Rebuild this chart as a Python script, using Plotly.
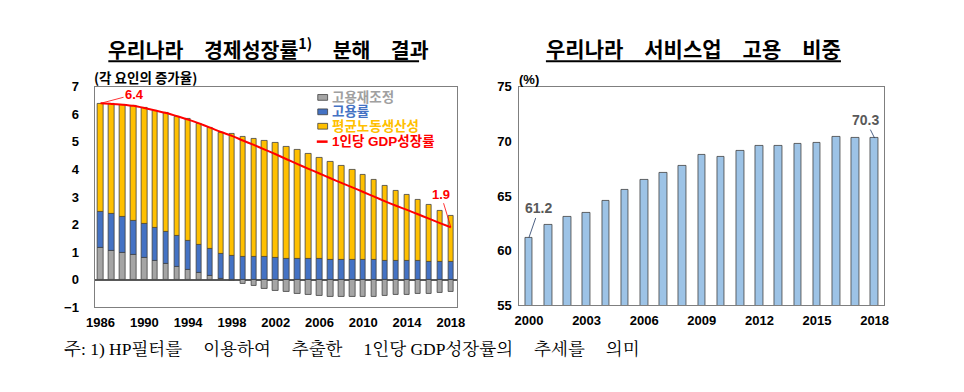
import plotly.graph_objects as go

# ---------------- data ----------------
years_l = list(range(1986, 2019))
emp_adj = [1.15, 1.06, 0.98, 0.88, 0.79, 0.67, 0.56, 0.47, 0.34, 0.24, 0.13, 0.02,
           -0.05, -0.16, -0.24, -0.33, -0.40, -0.45, -0.51, -0.54, -0.58, -0.61, -0.62,
           -0.62, -0.61, -0.61, -0.58, -0.57, -0.54, -0.53, -0.51, -0.47, -0.45]
emp_rate = [1.31, 1.31, 1.29, 1.27, 1.23, 1.20, 1.17, 1.10, 1.07, 1.01, 0.98, 0.91,
            0.87, 0.83, 0.83, 0.82, 0.80, 0.76, 0.76, 0.76, 0.74, 0.73, 0.73,
            0.73, 0.73, 0.73, 0.69, 0.69, 0.69, 0.69, 0.66, 0.66, 0.63]
productivity = [3.93, 4.00, 4.08, 4.16, 4.21, 4.27, 4.32, 4.35, 4.41, 4.42, 4.41, 4.41,
                4.42, 4.36, 4.29, 4.21, 4.15, 4.06, 3.94, 3.80, 3.69, 3.56, 3.39,
                3.25, 3.06, 2.88, 2.73, 2.55, 2.38, 2.21, 2.05, 1.85, 1.70]
gdp_pc = [6.40, 6.38, 6.35, 6.31, 6.23, 6.14, 6.05, 5.93, 5.81, 5.67, 5.52, 5.36,
          5.22, 5.05, 4.89, 4.72, 4.55, 4.37, 4.19, 4.02, 3.85, 3.68, 3.51,
          3.35, 3.18, 3.01, 2.84, 2.68, 2.53, 2.37, 2.21, 2.05, 1.90]
ticks_l = list(range(1986, 2019, 4))

years_r = list(range(2000, 2019))
service_share = [61.2, 62.4, 63.1, 63.5, 64.6, 65.6, 66.5, 67.1, 67.8, 68.8, 68.6,
                 69.1, 69.6, 69.6, 69.8, 69.9, 70.4, 70.3, 70.3]
ticks_r = list(range(2000, 2019, 3))

label_first_l, label_last_l = "6.4", "1.9"
label_first_r, label_last_r = "61.2", "70.3"

# ---------------- style ----------------
W, H = 964, 392
GREY, BLUE, YELLOW, RED = "#A5A5A5", "#4472C4", "#FFC000", "#FF0000"
LBLUE = "#9DC3E6"
EDGE = "#404040"
LAT = "Liberation Sans, Arial, Noto Sans CJK KR"
KR = "Noto Sans CJK KR, Liberation Sans"


def px(x):
    return x / W


def py(y):
    return 1 - y / H


fig = go.Figure()
bar_line = dict(color=EDGE, width=0.8)
fig.add_trace(go.Bar(x=years_l, y=emp_adj, marker=dict(color=GREY, line=bar_line),
                     width=0.5, name="고용재조정", xaxis="x", yaxis="y"))
fig.add_trace(go.Bar(x=years_l, y=emp_rate, marker=dict(color=BLUE, line=bar_line),
                     width=0.5, name="고용률", xaxis="x", yaxis="y"))
fig.add_trace(go.Bar(x=years_l, y=productivity, marker=dict(color=YELLOW, line=bar_line),
                     width=0.5, name="평균노동생산성", xaxis="x", yaxis="y"))
fig.add_trace(go.Scatter(x=years_l, y=gdp_pc, mode="lines",
                         line=dict(color=RED, width=2, shape="spline", smoothing=0.6),
                         name="1인당 GDP성장률", xaxis="x", yaxis="y"))
fig.add_trace(go.Bar(x=years_r, y=service_share, marker=dict(color=LBLUE, line=bar_line),
                     width=0.4, name="서비스업 고용 비중", xaxis="x2", yaxis="y2"))

tickfont = dict(family=LAT, size=13, color="#000000", weight="bold")
axis_common = dict(showline=True, linecolor="#7F7F7F", linewidth=1, mirror=True,
                   showgrid=False, ticks="", tickfont=tickfont, fixedrange=True)

fig.update_layout(
    width=W, height=H, margin=dict(l=0, r=0, t=0, b=0),
    paper_bgcolor="white", plot_bgcolor="white",
    barmode="relative", bargap=0, showlegend=False,
    xaxis=dict(domain=[px(88), px(457)], range=[1985.45, 2018.6],
               tickvals=ticks_l, ticktext=[str(t) for t in ticks_l],
               ticklabelstandoff=3, zeroline=False, anchor="y", **axis_common),
    yaxis=dict(domain=[py(312), py(83)], range=[-1, 7], dtick=1,
               zeroline=True, zerolinecolor="#595959", zerolinewidth=1.5,
               ticklabelstandoff=12, anchor="x", **axis_common),
    xaxis2=dict(domain=[px(520), px(891)], range=[1999.5, 2018.5],
                tickvals=ticks_r, ticktext=[str(t) for t in ticks_r],
                ticklabelstandoff=3, zeroline=False, anchor="y2", **axis_common),
    yaxis2=dict(domain=[py(310), py(83)], range=[55, 75], dtick=5,
                zeroline=False, ticklabelstandoff=4, anchor="x2", **axis_common),
)

ann = []
# data labels with leader lines
ann.append(dict(x=years_l[0], y=gdp_pc[0], xref="x", yref="y", text=label_first_l,
                showarrow=True, arrowhead=0, arrowwidth=0.8, arrowcolor=RED,
                ax=34, ay=-9, font=dict(family=LAT, size=13, color=RED, weight="bold")))
ann.append(dict(x=years_l[-1], y=gdp_pc[-1], xref="x", yref="y", text=label_last_l,
                showarrow=True, arrowhead=0, arrowwidth=0.8, arrowcolor=RED,
                ax=-10, ay=-33, font=dict(family=LAT, size=13, color=RED, weight="bold")))
ann.append(dict(x=years_r[0], y=service_share[0], xref="x2", yref="y2", text=label_first_r,
                showarrow=True, arrowhead=0, arrowwidth=0.8, arrowcolor="#1F3864",
                ax=10, ay=-29, font=dict(family=LAT, size=14, color="#595959", weight="bold")))
ann.append(dict(x=years_r[-1], y=service_share[-1], xref="x2", yref="y2", text=label_last_r,
                showarrow=True, arrowhead=0, arrowwidth=0.8, arrowcolor="#1F3864",
                ax=-9, ay=-18, font=dict(family=LAT, size=14, color="#595959", weight="bold")))

# unit labels
ann.append(dict(x=px(85), y=py(73), xref="paper", yref="paper", xanchor="left",
                yanchor="middle", text="(각 요인의 증가율)", showarrow=False,
                font=dict(family=KR, size=13.5, color="#000000", weight="bold")))
ann.append(dict(x=px(518), y=py(75), xref="paper", yref="paper", xanchor="left",
                yanchor="middle", text="(%)", showarrow=False,
                font=dict(family=LAT, size=13, color="#000000", weight="bold")))

# legend (manual)
leg_items = [("고용재조정", "#A0A0A0", 94), ("고용률", BLUE, 109),
             ("평균노동생산성", YELLOW, 124), ("1인당 GDP성장률", RED, 140)]
for txt, col, yy in leg_items:
    ann.append(dict(x=px(327), y=py(yy), xref="paper", yref="paper", xanchor="left",
                    yanchor="middle", text=txt, showarrow=False,
                    font=dict(family=LAT, size=13.5, color=col, weight="bold")))

# titles
SP = "\u3000"
ann.append(dict(x=px(100), y=py(43), xref="paper", yref="paper", xanchor="left",
                yanchor="middle",
                text="우리나라" + SP + "경제성장률<sup>1)</sup>" + SP + "분해" + SP + "결과",
                showarrow=False, font=dict(family=KR, size=20.5, color="#000000", weight="bold")))
ann.append(dict(x=px(545), y=py(43), xref="paper", yref="paper", xanchor="left",
                yanchor="middle",
                text="우리나라" + SP + "서비스업" + SP + "고용" + SP + "비중",
                showarrow=False, font=dict(family=KR, size=21, color="#000000", weight="bold")))

# footnote
FSP = "\u3000\u2009"
ann.append(dict(x=px(55), y=py(356), xref="paper", yref="paper", xanchor="left",
                yanchor="middle",
                text="주: 1) HP필터를" + FSP + "이용하여" + FSP + "추출한" + FSP + "1인당 GDP성장률의"
                     + FSP + "추세를" + FSP + "의미",
                showarrow=False,
                font=dict(family="Liberation Serif, Noto Serif CJK KR, Noto Sans CJK KR",
                          size=17.5, color="#000000")))
fig.update_layout(annotations=ann)

shapes = []
# title underlines
shapes.append(dict(type="line", xref="paper", yref="paper", x0=px(102), x1=px(418),
                   y0=py(56.5), y1=py(56.5), line=dict(color="#000000", width=2)))
shapes.append(dict(type="line", xref="paper", yref="paper", x0=px(547), x1=px(847),
                   y0=py(56.5), y1=py(56.5), line=dict(color="#000000", width=2)))
# legend swatches
for col, yy in [(GREY, 94), (BLUE, 109), (YELLOW, 124)]:
    shapes.append(dict(type="rect", xref="paper", yref="paper", x0=px(315), x1=px(325),
                       y0=py(yy + 3), y1=py(yy - 3), fillcolor=col,
                       line=dict(color=EDGE, width=0.8)))
shapes.append(dict(type="line", xref="paper", yref="paper", x0=px(314), x1=px(325),
                   y0=py(140), y1=py(140), line=dict(color=RED, width=2.5)))
fig.update_layout(shapes=shapes)

fig.write_html("out.html", config={"displayModeBar": False},
               post_script="document.body.style.margin='0';document.body.style.overflow='hidden';")
